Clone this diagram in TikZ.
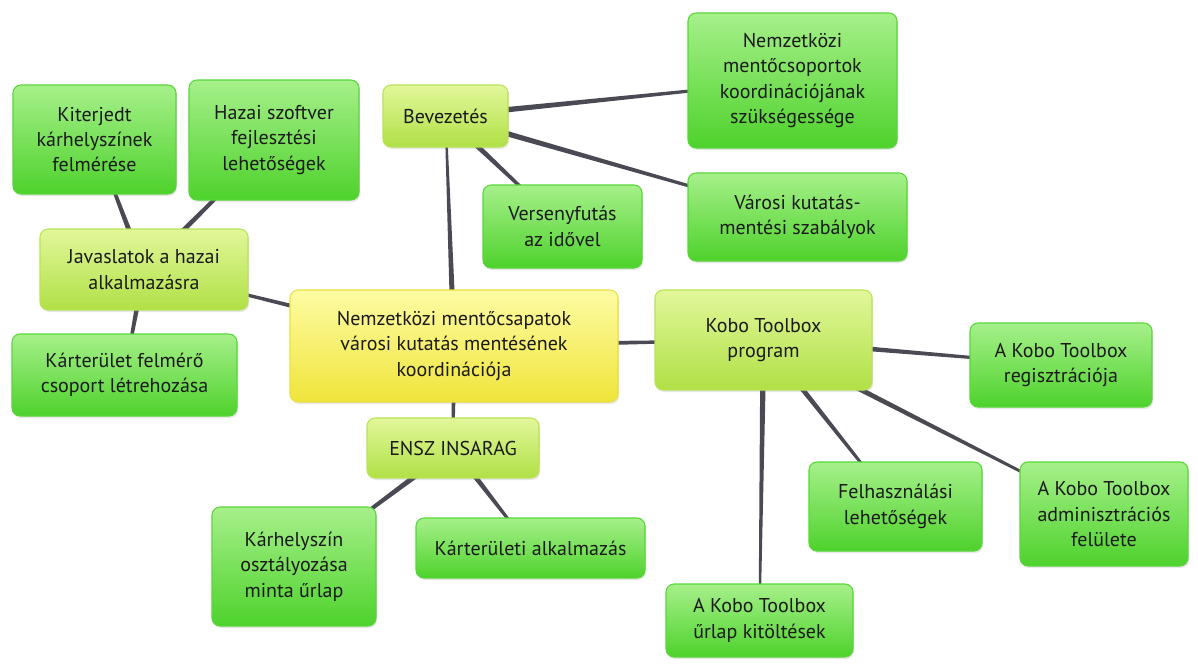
\documentclass[tikz,border=0pt]{standalone}
\usepackage{fontspec}
\setmainfont{PT Sans}
\usetikzlibrary{positioning,backgrounds,shadows,calc}

\definecolor{leafTop}{HTML}{A6F08A}
\definecolor{leafBot}{HTML}{4ED22C}
\definecolor{leafEdge}{HTML}{58D63A}
\definecolor{branchTop}{HTML}{E2F79A}
\definecolor{branchBot}{HTML}{B0E046}
\definecolor{branchEdge}{HTML}{B8E456}
\definecolor{rootTop}{HTML}{FDFCA4}
\definecolor{rootBot}{HTML}{F0E43A}
\definecolor{rootEdge}{HTML}{E9E040}
\definecolor{linkgray}{HTML}{4A4A55}
\definecolor{txt}{HTML}{1A1A1A}

% tapered connector: thick at the parent, thin at the child
\newcommand{\taper}[2]{%
    \fill[linkgray] ($(#1)!2.3pt!90:(#2)$) -- ($(#2)!0.7pt!-90:(#1)$) -- ($(#2)!0.7pt!90:(#1)$) -- ($(#1)!2.3pt!-90:(#2)$) -- cycle;}

\begin{document}
\begin{tikzpicture}[
        x=0.75pt, y=-0.75pt,
        sz/.style 2 args={minimum width=#1*0.75pt, minimum height=#2*0.75pt},
        leaf/.style={rectangle, rounded corners=6pt, draw=leafEdge, line width=0.8pt, top color=leafTop, bottom color=leafBot, align=center, inner sep=2pt, text=txt, font=\fontsize{15}{19}\selectfont, drop shadow={opacity=0.18, shadow xshift=0.8pt, shadow yshift=-1.5pt}},
        branch/.style={leaf, draw=branchEdge, top color=branchTop, bottom color=branchBot},
        rootbox/.style={leaf, draw=rootEdge, top color=rootTop, bottom color=rootBot},
        ]

        \useasboundingbox (0,0) rectangle (1198,664);

        % Central topic
        \node[rootbox, sz={328}{112}] (root) at (454,346) {Nemzetközi mentőcsapatok\\városi kutatás mentésének\\koordinációja};

        % Main branches
        \node[branch, sz={125}{62}] (intro) at (445.5,116) {Bevezetés};
        \node[branch, sz={208}{81}] (advice) at (144,269.5) {Javaslatok a hazai\\alkalmazásra};
        \node[branch, sz={217}{100}] (kobo) at (763.5,340) {Kobo Toolbox\\program};
        \node[branch, sz={172}{60}] (insarag) at (453,448) {ENSZ INSARAG};

        % Bevezetés leaves
        \node[leaf, sz={209}{135}] (need) at (792.5,80.5) {Nemzetközi\\mentőcsoportok\\koordinációjának\\szükségessége};
        \node[leaf, sz={219}{88}] (rules) at (797.5,217) {Városi kutatás-\\mentési szabályok};
        \node[leaf, sz={159}{83}] (race) at (562.5,226.5) {Versenyfutás\\az idővel};

        % Javaslatok leaves
        \node[leaf, sz={163}{109}] (survey) at (94.5,139.5) {Kiterjedt\\kárhelyszínek\\felmérése};
        \node[leaf, sz={170}{120}] (software) at (274,140) {Hazai szoftver\\fejlesztési\\lehetőségek};
        \node[leaf, sz={225}{82}] (team) at (124.5,375) {Kárterület felmérő\\csoport létrehozása};

        % ENSZ INSARAG leaves
        \node[leaf, sz={164}{119}] (form) at (294,566.5) {Kárhelyszín\\osztályozása\\minta űrlap};
        \node[leaf, sz={229}{60}] (field) at (530.5,548) {Kárterületi alkalmazás};

        % Kobo Toolbox leaves
        \node[leaf, sz={182}{84}] (signup) at (1061,365) {A Kobo Toolbox\\regisztrációja};
        \node[leaf, sz={173}{89}] (usage) at (895.5,506.5) {Felhasználási\\lehetőségek};
        \node[leaf, sz={168}{104}] (admin) at (1104,514) {A Kobo Toolbox\\adminisztrációs\\felülete};
        \node[leaf, sz={187}{73}] (fill) at (759.5,620.5) {A Kobo Toolbox\\űrlap kitöltések};

        % Connectors
        \begin{scope}[on background layer]
            \taper{root}{intro}
            \taper{root}{advice}
            \taper{root}{kobo}
            \taper{root}{insarag}
            \taper{intro}{need}
            \taper{intro}{rules}
            \taper{intro}{race}
            \taper{advice}{survey}
            \taper{advice}{software}
            \taper{advice}{team}
            \taper{insarag}{form}
            \taper{insarag}{field}
            \taper{kobo}{signup}
            \taper{kobo}{usage}
            \taper{kobo}{admin}
            \taper{kobo}{fill}
        \end{scope}

    \end{tikzpicture}
\end{document}
